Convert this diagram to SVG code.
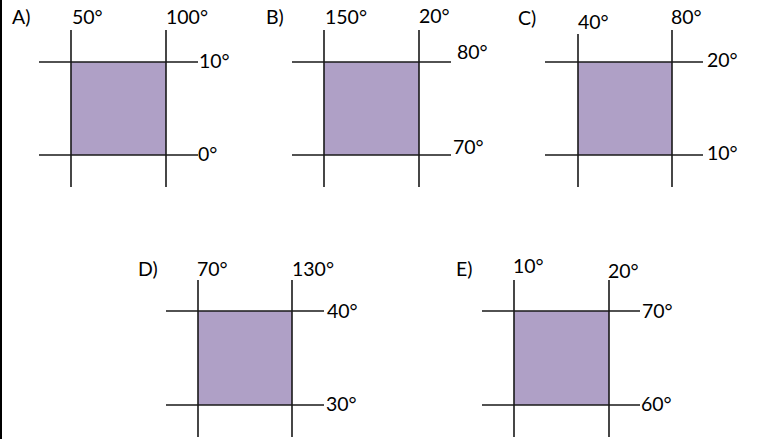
<svg xmlns="http://www.w3.org/2000/svg" width="758" height="439" viewBox="0 0 758 439">
<style>
.t{font-family:Lato,"Open Sans","Liberation Sans",sans-serif;font-size:19.5px;fill:#000}
.ln{stroke:#1a1a1a;stroke-width:1.6;fill:none}
.sq{fill:#afa0c6}
</style>
<rect width="758" height="439" fill="#fff"/>
<line x1="1" y1="0" x2="1" y2="439" stroke="#000" stroke-width="2"/>
<g id="A">
<rect class="sq" x="71" y="62" width="95" height="93"/>
<path class="ln" d="M71 30V187M166 30V187M39 62H198M39 155H198"/>
<text class="t" x="12" y="24">A)</text>
<text class="t" x="72" y="24">50°</text>
<text class="t" x="166" y="24">100°</text>
<text class="t" x="199" y="68">10°</text>
<text class="t" x="198" y="161">0°</text>
</g>
<g id="B">
<rect class="sq" x="324" y="62" width="95" height="93"/>
<path class="ln" d="M324 30V187M419 30V187M292 62H451M292 155H451"/>
<text class="t" x="266" y="24">B)</text>
<text class="t" x="325" y="24">150°</text>
<text class="t" x="419" y="23">20°</text>
<text class="t" x="457" y="59">80°</text>
<text class="t" x="453" y="154">70°</text>
</g>
<g id="C">
<rect class="sq" x="578" y="62" width="94" height="93"/>
<path class="ln" d="M578 34V187M672 30V187M545 62H703M545 155H703"/>
<text class="t" x="518" y="25">C)</text>
<text class="t" x="578" y="29">40°</text>
<text class="t" x="671" y="24">80°</text>
<text class="t" x="707" y="67">20°</text>
<text class="t" x="707" y="160">10°</text>
</g>
<g id="D">
<rect class="sq" x="198" y="311" width="94" height="94"/>
<path class="ln" d="M198 280V437M292 280V437M166 311H324M166 405H324"/>
<text class="t" x="138" y="276">D)</text>
<text class="t" x="197" y="276">70°</text>
<text class="t" x="292" y="276">130°</text>
<text class="t" x="327" y="318">40°</text>
<text class="t" x="326" y="411">30°</text>
</g>
<g id="E">
<rect class="sq" x="514" y="311" width="95" height="94"/>
<path class="ln" d="M514 280V437M609 280V437M482 311H640M482 405H640"/>
<text class="t" x="456" y="276">E)</text>
<text class="t" x="513" y="273">10°</text>
<text class="t" x="608" y="278">20°</text>
<text class="t" x="642" y="318">70°</text>
<text class="t" x="641" y="411">60°</text>
</g>
</svg>
